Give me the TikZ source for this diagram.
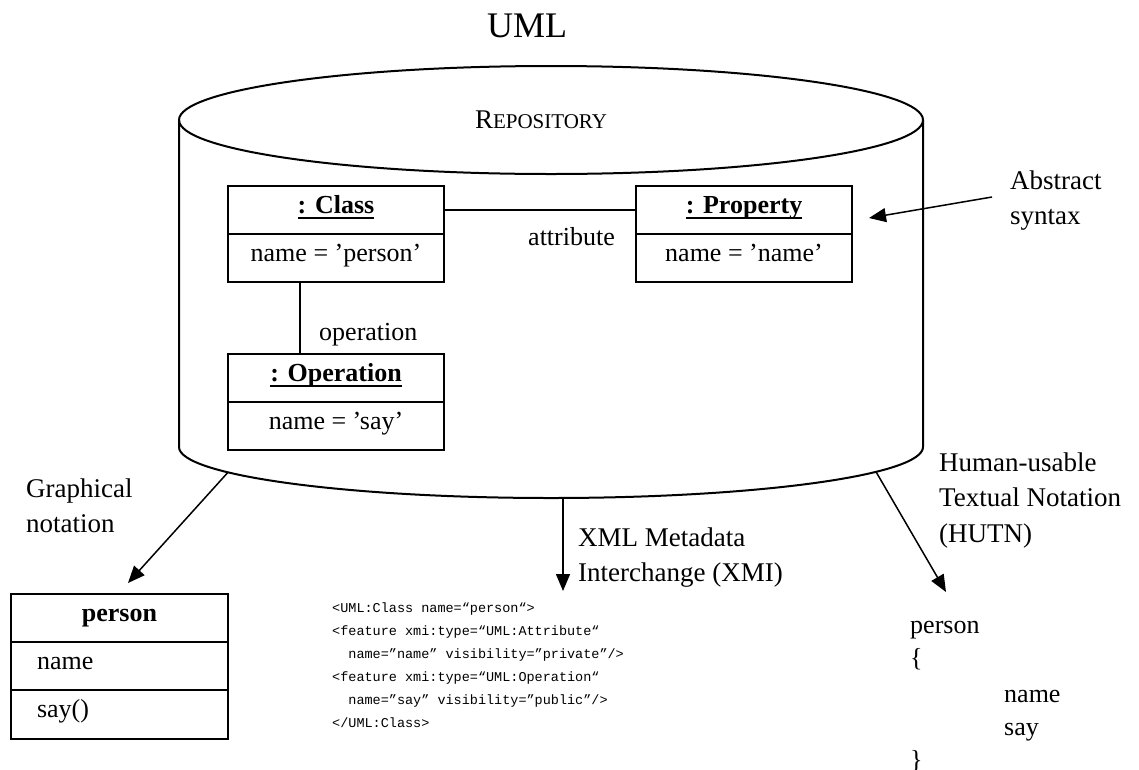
\documentclass[tikz,border=0pt]{standalone}
\usepackage{fontspec}
\setmainfont{Liberation Serif}
\setmonofont{Liberation Mono}
\usetikzlibrary{arrows.meta}
\newcommand{\myuline}[1]{\setbox0=\hbox{#1}\rlap{\raisebox{-6pt}{\rule{\wd0}{2pt}}}\box0}
\begin{document}
\begin{tikzpicture}[x=1pt,y=-1pt,
  cyl/.style={line width=2pt},
  comp/.style={draw, line width=1.7pt, minimum width=216pt, minimum height=48pt, inner sep=0pt,
    text height=18pt, text depth=12pt, font=\fontsize{26}{30}\selectfont},
  assoc/.style={line width=1.5pt},
  arr/.style={line width=1.5pt, -{Triangle[length=17pt,width=14pt]}},
  lbl/.style={anchor=base west, inner sep=0pt, font=\fontsize{27}{35}\selectfont},
  plain/.style={anchor=base west, inner sep=0pt, font=\fontsize{26}{30}\selectfont},
]
\useasboundingbox (0,0) rectangle (1139,769);
\fill[white] (0,0) rectangle (1139,769);

% title
\node[font=\fontsize{36}{40}\selectfont, anchor=base, inner sep=0pt] (title) at (527,37) {UML};

% repository cylinder
\draw[cyl] (551,120) ellipse [x radius=372, y radius=54];
\draw[cyl] (179,120) -- (179,447) .. controls (179,475.2) and (345.5,498) .. (551,498)
  .. controls (756.5,498) and (923,475.2) .. (923,447) -- (923,120);
\node[anchor=base, inner sep=0pt] (repo) at (541,128)
  {\fontsize{27}{30}\selectfont R\fontsize{21}{30}\selectfont EPOSITORY};

% object boxes
\node[comp] (clshdr) at (336,210) {\myuline{\textbf{: Class}}};
\node[comp] (clsbody) at (336,258) {name = ’person’};
\node[comp] (prophdr) at (744,210) {\myuline{\textbf{: Property}}};
\node[comp] (propbody) at (744,258) {name = ’name’};
\node[comp] (ophdr) at (336,378) {\myuline{\textbf{: Operation}}};
\node[comp] (opbody) at (336,426) {name = ’say’};

\draw[assoc] (clshdr.east) -- (prophdr.west);
\node[plain] (attrlab) at (528,245) {attribute};
\coordinate (opx) at (300,0);
\draw[assoc] (clsbody.south -| opx) -- (ophdr.north -| opx);
\node[plain] (oplab) at (319,340) {operation};

% abstract syntax
\node[lbl] (abslab) at (1010,189) {\vtop{\hbox{Abstract}\hbox{syntax}}};
\coordinate (absfrom) at (992,197);
\coordinate (absto) at (869,218);
\draw[arr] (absfrom) -- (absto);

% graphical notation
\coordinate (gfrom) at (228,472.3);
\coordinate (gto) at (128,583);
\draw[arr] (gfrom) -- (gto);
\node[lbl] (glab) at (26,497) {\vtop{\hbox{Graphical}\hbox{notation}}};
\node[comp, minimum width=217pt] (phdr) at (119.5,618) {\textbf{person}};
\node[comp, minimum width=217pt] (pname) at (119.5,666) {\makebox[165pt][l]{name}};
\node[comp, minimum width=217pt, minimum height=49pt] (psay) at (119.5,714.5) {\makebox[165pt][l]{say()}};

% XMI
\coordinate (xfrom) at (563,497.9);
\coordinate (xto) at (563,591);
\draw[arr] (xfrom) -- (xto);
\node[lbl] (xlab) at (578,546) {\vtop{\hbox{XML Metadata}\hbox{Interchange (XMI)}}};
\node[anchor=base west, inner sep=0pt, font=\ttfamily\fontsize{13.5}{23}\selectfont] (code) at (332,612)
  {\vtop{
    \hbox{<UML:Class name=“person“>}
    \hbox{<feature xmi:type=“UML:Attribute“}
    \hbox{\hphantom{xx}name=”name” visibility=”private”/>}
    \hbox{<feature xmi:type=“UML:Operation“}
    \hbox{\hphantom{xx}name=”say” visibility=”public”/>}
    \hbox{</UML:Class>}}};

% HUTN
\coordinate (hfrom) at (876,471.8);
\coordinate (hto) at (946,592);
\draw[arr] (hfrom) -- (hto);
\node[lbl, font=\fontsize{27}{35.5}\selectfont] (hlab) at (939,471)
  {\vtop{\hbox{Human-usable}\hbox{Textual Notation}\hbox{(HUTN)}}};
\node[anchor=base west, inner sep=0pt, font=\fontsize{26}{33}\selectfont] (hutn) at (910,633)
  {\vtop{\lineskiplimit=-100pt
    \hbox{person}\hbox{\{}\vskip 3pt
    \hbox{\hspace*{94pt}name}\hbox{\hspace*{94pt}say}\hbox{\}}}};
\end{tikzpicture}
\end{document}
